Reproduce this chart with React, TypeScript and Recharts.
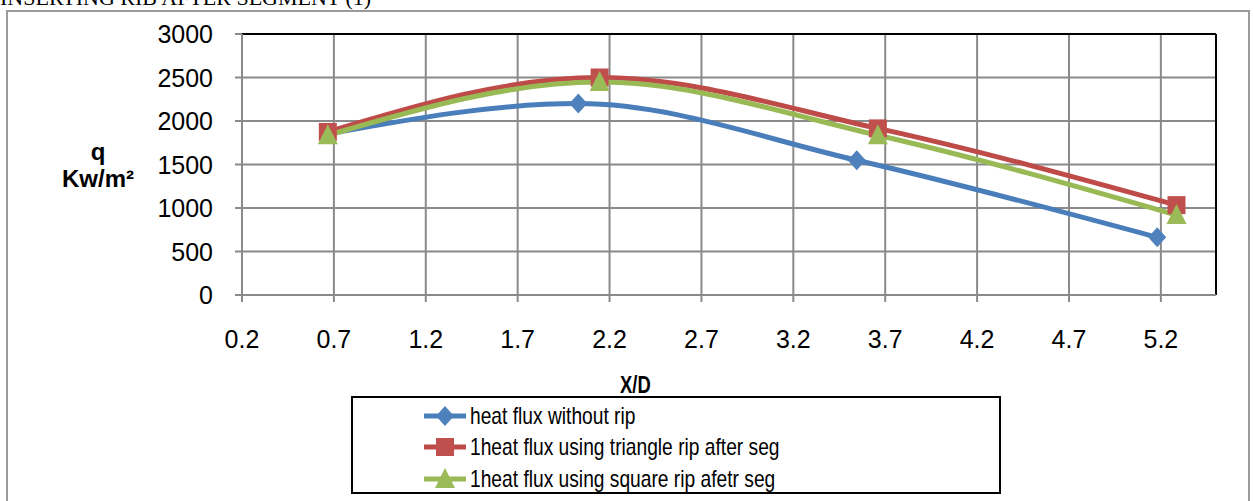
import React from "react";
import {
    LineChart,
    Line,
    XAxis,
    YAxis,
    CartesianGrid,
    ReferenceLine,
} from "recharts";

// X/D positions and heat flux q (Kw/m2)
const xWithout = [0.667, 2.03, 3.545, 5.18];
const qWithout = [1850, 2200, 1549, 663];

const xTriangle = [0.667, 2.146, 3.66, 5.285];
const qTriangle = [1874, 2500, 1915, 1033];

const xSquare = [0.667, 2.146, 3.66, 5.285];
const qSquare = [1836, 2447, 1836, 919];

const xTicks = [0.2, 0.7, 1.2, 1.7, 2.2, 2.7, 3.2, 3.7, 4.2, 4.7, 5.2];
const yTicks = [0, 500, 1000, 1500, 2000, 2500, 3000];

const seriesNames = [
    "heat flux without rip",
    "1heat flux using triangle rip after seg",
    "1heat flux using square rip afetr seg",
];

const toRows = (xs: number[], ys: number[]) => xs.map((x, i) => ({ x, q: ys[i] }));

const BLUE = "#4A7EBB";
const RED = "#BE4B48";
const GREEN = "#98B954";
const GRID = "#8a8a8a";
const SANS = "'Liberation Sans', Arial, sans-serif";

const Diamond = ({ cx, cy, fill }: any) => (
    <path d={`M${cx},${cy - 10} L${cx + 9},${cy} L${cx},${cy + 10} L${cx - 9},${cy} Z`} fill={fill} />
);
const Square = ({ cx, cy, fill }: any) => (
    <rect x={cx - 9} y={cy - 9} width={18} height={18} fill={fill} />
);
const Triangle = ({ cx, cy, fill }: any) => (
    <path d={`M${cx},${cy - 11} L${cx + 10},${cy + 9} L${cx - 10},${cy + 9} Z`} fill={fill} />
);

const XTick = ({ x, y, payload }: any) => (
    <text x={x} y={y + 44} textAnchor="middle" fontFamily={SANS} fontSize={25} fill="#000">
        {payload.value.toFixed(1)}
    </text>
);
const YTick = ({ x, y, payload }: any) => (
    <text x={x - 20} y={y + 9} textAnchor="end" fontFamily={SANS} fontSize={25} fill="#000">
        {payload.value}
    </text>
);

const legendItems = [
    { name: seriesNames[0], color: BLUE, Marker: Diamond, mark: "#4F81BD" },
    { name: seriesNames[1], color: RED, Marker: Square, mark: "#C0504D" },
    { name: seriesNames[2], color: GREEN, Marker: Triangle, mark: "#9BBB59" },
];

// narrow look like the original's condensed font
const narrow = { display: "inline-block", transform: "scaleX(0.8)", transformOrigin: "left center" } as const;

export default function App() {
    return (
        <div style={{ position: "absolute", left: 0, top: 0, width: 1253, height: 501, overflow: "hidden", background: "#fff" }}>
            <div style={{ position: "absolute", left: 0, top: -15, fontFamily: "'Liberation Serif', serif", fontSize: 22, whiteSpace: "nowrap" }}>
                INSERTING RIB AFTER SEGMENT (1)
            </div>
            <div style={{ position: "absolute", left: 6, top: 10, width: 1240, height: 520, border: "2px solid #9a9a9a" }} />
            <div style={{ position: "absolute", left: 0, top: 0 }}>
                <LineChart width={1253} height={501} margin={{ top: 34, right: 37, left: 0, bottom: 0 }}>
                    <CartesianGrid stroke={GRID} strokeWidth={2} horizontalValues={yTicks} verticalValues={xTicks} />
                    <XAxis
                        type="number"
                        dataKey="x"
                        domain={[0.2, 5.5]}
                        ticks={xTicks}
                        allowDataOverflow
                        height={206}
                        stroke={GRID}
                        strokeWidth={2}
                        tickSize={7}
                        tickLine={{ stroke: GRID, strokeWidth: 2 }}
                        tick={<XTick />}
                    />
                    <YAxis
                        type="number"
                        domain={[0, 3000]}
                        ticks={yTicks}
                        width={242}
                        stroke={GRID}
                        strokeWidth={2}
                        tickSize={7}
                        tickLine={{ stroke: GRID, strokeWidth: 2 }}
                        tick={<YTick />}
                    />
                    <ReferenceLine y={3000} stroke="#000" strokeWidth={2} />
                    <ReferenceLine x={5.5} stroke="#000" strokeWidth={2} />
                    <Line
                        data={toRows(xWithout, qWithout)}
                        dataKey="q"
                        name={seriesNames[0]}
                        type="monotone"
                        stroke={BLUE}
                        strokeWidth={5}
                        dot={(p: any) => <Diamond key={p.index} cx={p.cx} cy={p.cy} fill="#4F81BD" />}
                        isAnimationActive={false}
                    />
                    <Line
                        data={toRows(xTriangle, qTriangle)}
                        dataKey="q"
                        name={seriesNames[1]}
                        type="monotone"
                        stroke={RED}
                        strokeWidth={5}
                        dot={(p: any) => <Square key={p.index} cx={p.cx} cy={p.cy} fill="#C0504D" />}
                        isAnimationActive={false}
                    />
                    <Line
                        data={toRows(xSquare, qSquare)}
                        dataKey="q"
                        name={seriesNames[2]}
                        type="monotone"
                        stroke={GREEN}
                        strokeWidth={5}
                        dot={(p: any) => <Triangle key={p.index} cx={p.cx} cy={p.cy} fill="#9BBB59" />}
                        isAnimationActive={false}
                    />
                </LineChart>
            </div>
            {/* axis titles */}
            <div style={{ position: "absolute", left: 56, top: 138, width: 84, textAlign: "center", fontFamily: SANS, fontWeight: "bold", fontSize: 24, lineHeight: "27px" }}>
                q<br />Kw/m²
            </div>
            <div style={{ position: "absolute", left: 620, top: 372, whiteSpace: "nowrap", fontFamily: SANS, fontWeight: "bold", fontSize: 23 }}>
                <span style={narrow}>X/D</span>
            </div>
            {/* legend */}
            <div style={{ position: "absolute", left: 351, top: 396, width: 646, height: 94, border: "2px solid #000", background: "#fff" }}>
                {legendItems.map((it, i) => (
                    <div key={i} style={{ position: "absolute", left: 70, top: 2 + i * 31.5, height: 31, display: "flex", alignItems: "center", whiteSpace: "nowrap" }}>
                        <svg width={44} height={24}>
                            <line x1={1} y1={12} x2={43} y2={12} stroke={it.color} strokeWidth={5} />
                            <it.Marker cx={22} cy={12} fill={it.mark} />
                        </svg>
                        <span style={{ marginLeft: 3, fontFamily: SANS, fontSize: 24 }}>
                            <span style={narrow}>{it.name}</span>
                        </span>
                    </div>
                ))}
            </div>
        </div>
    );
}
